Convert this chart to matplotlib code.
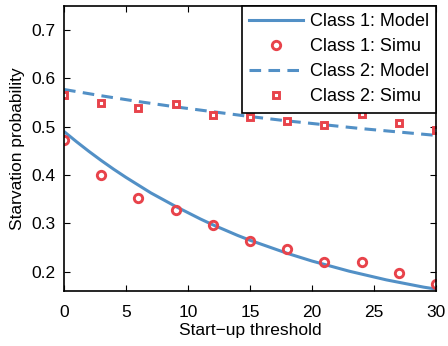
import matplotlib
matplotlib.use("Agg")
import matplotlib.pyplot as plt
import numpy as np

plt.rcParams['font.family'] = ['Liberation Sans', 'DejaVu Sans']

# model curves (every threshold value)
x_model = list(range(0, 31))
class1_model = [0.490, 0.469, 0.449, 0.430, 0.412, 0.395, 0.379, 0.363, 0.349, 0.335,
                0.322, 0.309, 0.297, 0.286, 0.275, 0.265, 0.256, 0.247, 0.238, 0.230,
                0.222, 0.215, 0.208, 0.201, 0.195, 0.189, 0.183, 0.178, 0.173, 0.168,
                0.164]
x_model2 = [0, 3, 6, 9, 12, 15, 18, 21, 24, 27, 30]
class2_model = [0.577, 0.564, 0.552, 0.541, 0.531, 0.521, 0.512, 0.504, 0.496, 0.489, 0.482]

# simulation results
x_simu = [0, 3, 6, 9, 12, 15, 18, 21, 24, 27, 30]
class1_simu = [0.473, 0.401, 0.352, 0.328, 0.297, 0.264, 0.247, 0.221, 0.220, 0.198, 0.174]
class2_simu = [0.565, 0.550, 0.539, 0.547, 0.524, 0.521, 0.512, 0.504, 0.526, 0.508, 0.494]

blue = '#5290c6'
red = '#e8434b'

fig = plt.figure(figsize=(4.48, 3.46), dpi=100)
ax = fig.add_axes([0.143, 0.159, 0.830, 0.824])

ax.plot(x_model, class1_model, '-', color=blue, lw=2.2, label='Class 1: Model')
ax.plot(x_simu, class1_simu, 'o', ms=6.0, mfc='none', mec=red, mew=2.1,
        label='Class 1: Simu')
ax.plot(x_model2, class2_model, '--', color=blue, lw=2.2, dashes=(3.8, 2.4),
        label='Class 2: Model')
ax.plot(x_simu, class2_simu, 's', ms=4.8, mfc='white', mec=red, mew=2.1,
        label='Class 2: Simu')

ax.set_xlim(0, 30)
ax.set_ylim(0.16, 0.75)
ax.set_xticks([0, 5, 10, 15, 20, 25, 30])
ax.set_yticks([0.2, 0.3, 0.4, 0.5, 0.6, 0.7])
ax.tick_params(direction='in', top=True, right=True, labelsize=12.5, length=4)
ax.tick_params(axis='x', pad=10)
ax.tick_params(axis='y', pad=6)
for s in ax.spines.values():
    s.set_linewidth(1.2)

ax.set_xlabel('Start\u2212up threshold', fontsize=12.5, labelpad=2)
ax.set_ylabel('Starvation probability', fontsize=12.5, labelpad=5)

leg = ax.legend(loc='upper right', fontsize=13, borderaxespad=0, fancybox=False,
                framealpha=1, edgecolor='black', handlelength=3.0,
                labelspacing=0.45, borderpad=0.4, handletextpad=0.35)
leg.get_frame().set_linewidth(1.2)

fig.savefig('out.png', dpi=100)
